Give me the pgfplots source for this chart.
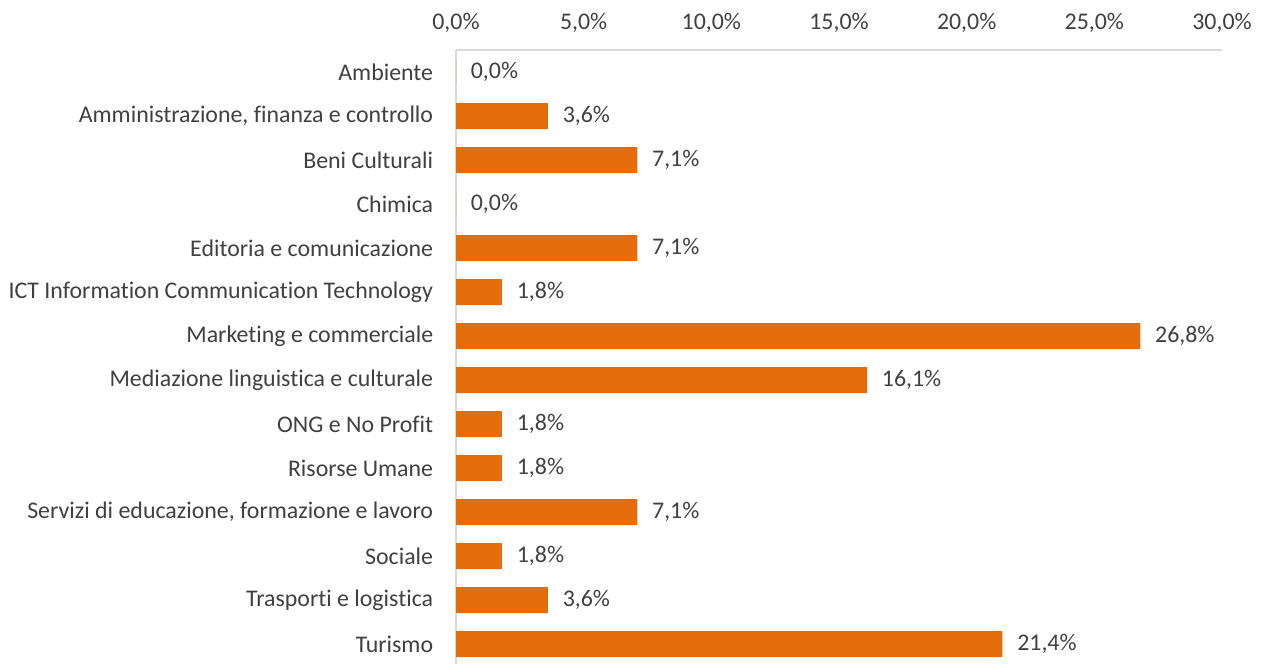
\documentclass[border=0pt]{standalone}
\usepackage{pgfplots}
\pgfplotsset{compat=1.18}
\usepackage{fontspec}
\setmainfont[Ligatures={NoCommon,NoRequired,NoContextual}]{Carlito}
\definecolor{barorange}{HTML}{E46C0A}
\definecolor{txt}{HTML}{404040}
\definecolor{axgray}{HTML}{D9D9D9}
\begin{document}
\fontsize{17.9}{21.5}\selectfont
\begin{tikzpicture}
\path[use as bounding box] (0,0) rectangle (949.5pt,498pt);
\begin{axis}[
  at={(342pt,0pt)}, anchor=south west,
  scale only axis,
  width=574.5pt, height=460.5pt,
  xmin=0, xmax=30,
  ymin=-0.5, ymax=13.45,
  y dir=reverse,
  axis x line*=top,
  axis y line*=left,
  axis line style={axgray, line width=1pt},
  x axis line style={-},
  y axis line style={-},
  xtick={0,5,10,15,20,25,30},
  xticklabel={\pgfmathprintnumber[fixed,fixed zerofill,precision=1,use comma]{\tick}\%},
  xticklabel style={yshift=7pt, text=txt},
  ytick={0,...,13},
  yticklabels={Ambiente,{Amministrazione, finanza e controllo},Beni Culturali,Chimica,Editoria e comunicazione,ICT Information Communication Technology,Marketing e commerciale,Mediazione linguistica e culturale,ONG e No Profit,Risorse Umane,{Servizi di educazione, formazione e lavoro},Sociale,Trasporti e logistica,Turismo},
  yticklabel style={text=txt, xshift=-11pt},
  major tick length=0pt,
  tick style={draw=none},
  /pgf/number format/assume math mode=true,
  xbar, bar width=19.5pt,
  nodes near coords={\pgfmathprintnumber[fixed,fixed zerofill,precision=1,use comma]{\pgfplotspointmeta}\%},
  nodes near coords style={text=txt, anchor=west, xshift=5pt},
  point meta=x,
  clip=false,
]
\addplot[fill=barorange, draw=none] coordinates {
(0,0) (3.6,1) (7.1,2) (0,3) (7.1,4) (1.8,5) (26.8,6) (16.1,7) (1.8,8) (1.8,9) (7.1,10) (1.8,11) (3.6,12) (21.4,13)
};
\end{axis}
\end{tikzpicture}
\end{document}
